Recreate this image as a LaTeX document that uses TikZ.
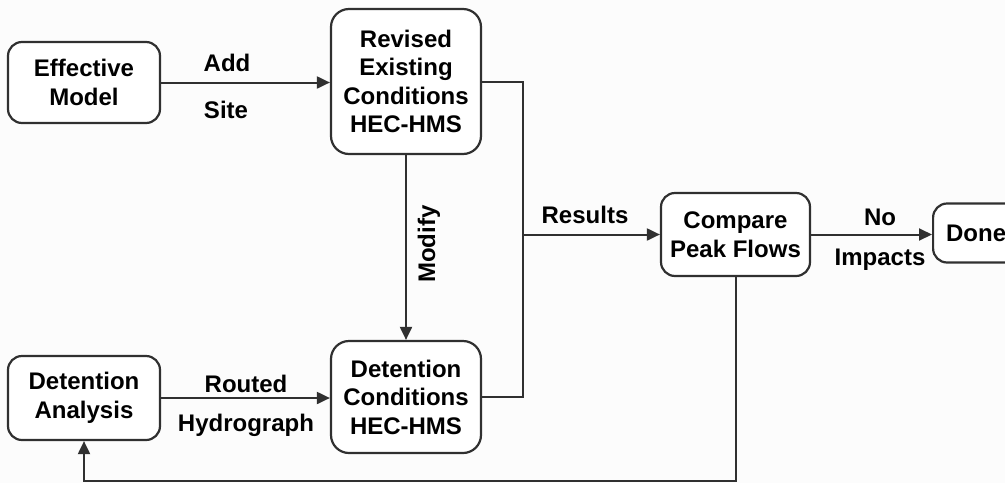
\documentclass[tikz,border=0pt]{standalone}
\usepackage{fontspec}
\setmainfont{Liberation Sans}
\usetikzlibrary{arrows.meta}
\definecolor{linec}{HTML}{303030}
\definecolor{bgc}{HTML}{FCFCFC}
\tikzset{
  box/.style={draw=linec, line width=2.2pt, rounded corners=14pt, fill=white, align=center,
    font=\fontsize{24}{28.5}\selectfont\bfseries, inner sep=0pt},
  lbl/.style={font=\fontsize{24}{28}\selectfont\bfseries, inner sep=0pt},
  conn/.style={draw=linec, line width=2pt, line join=miter},
  arr/.style={conn, -{Triangle[length=13pt,width=12pt]}}
}
\begin{document}
\begin{tikzpicture}[x=1pt,y=-1pt]
\useasboundingbox[fill=bgc] (0,0) rectangle (1005,483);
\node[box, minimum width=152pt, minimum height=81pt] (em) at (84,82.5) {Effective\\Model};
\node[box, minimum width=150pt, minimum height=145pt, rounded corners=18pt] (rev) at (406,81.5) {Revised\\Existing\\Conditions\\HEC-HMS};
\node[box, minimum width=152pt, minimum height=84pt] (da) at (84,398) {Detention\\Analysis};
\node[box, minimum width=150pt, minimum height=112pt, rounded corners=18pt] (dc) at (406,397) {Detention\\Conditions\\HEC-HMS};
\node[box, minimum width=149pt, minimum height=83pt] (cmp) at (735.5,234.5) {Compare\\Peak Flows};
\node[box, minimum width=86pt, minimum height=59pt, anchor=west] (done) at (932,233) {Done};

\coordinate (jb) at (523,397);
\coordinate (jr) at (523,234.5);
\coordinate (fb) at (735.5,481);

\draw[arr] (em.east) -- (em.east -| rev.west);
\draw[arr] (da.east) -- (da.east -| dc.west);
\draw[arr] (rev.south) -- (dc.north);
\draw[conn] (rev.east) -| (jb) -- (dc.east);
\draw[arr] (jr) -- (cmp.west);
\draw[arr] (cmp.east) -- (cmp.east -| done.west);
\draw[arr] (cmp.south) -- (fb) -| (da.south);

\node[lbl] (ladd) at (227,63) {Add};
\node[lbl] (lsite) at (226,110) {Site};
\node[lbl] (lrouted) at (246,384) {Routed};
\node[lbl] (lhydro) at (246,425) {Hydrograph};
\node[lbl] (lres) at (585,215) {Results};
\node[lbl] (lno) at (880,217) {No};
\node[lbl] (limp) at (880,260) {Impacts};
\node[lbl, rotate=90] (lmod) at (429,244) {Modify};
\end{tikzpicture}
\end{document}
